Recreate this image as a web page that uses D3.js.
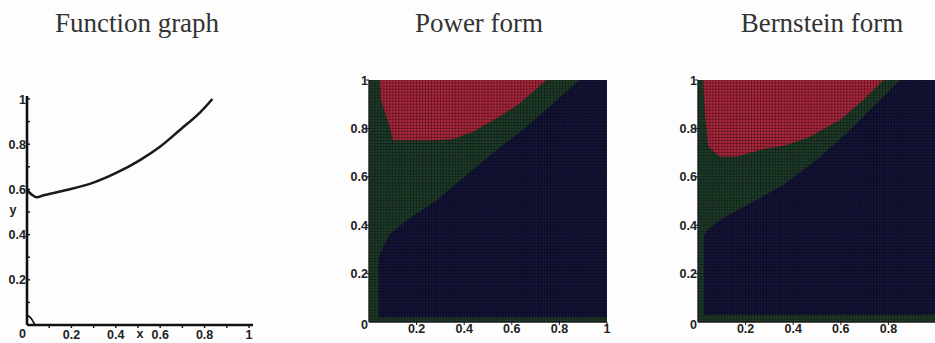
<!DOCTYPE html>
<html>
<head>
<meta charset="utf-8">
<script src="https://cdn.jsdelivr.net/npm/d3@7"></script>
<style>
  body { margin: 0; background: #fdfdfd; }
  svg { display: block; }
</style>
</head>
<body>
<div id="chart"></div>
<script>
// titles and tick labels
const titles = ["Function graph", "Power form", "Bernstein form"];
const tickValues = [0, 0.2, 0.4, 0.6, 0.8, 1];
const tickLabels = ["0", "0.2", "0.4", "0.6", "0.8", "1"];

// function graph
const curveX = [0, 0.02, 0.044, 0.074, 0.178, 0.299, 0.404, 0.509, 0.599, 0.689, 0.779, 0.835];
const curveY = [0.598, 0.578, 0.565, 0.574, 0.597, 0.63, 0.674, 0.73, 0.789, 0.863, 0.94, 1.0];
const blipX = [0.004, 0.018, 0.034];
const blipY = [0.042, 0.03, 0.004];

// power form regions: lower edge of red, green/navy edge, green strips
const powerRedX = [0.045, 0.05, 0.087, 0.101, 0.25, 0.35, 0.437, 0.535, 0.633, 0.745];
const powerRedY = [1, 0.917, 0.806, 0.751, 0.75, 0.755, 0.786, 0.841, 0.903, 1];
const powerNavyX = [0.885, 0.773, 0.661, 0.535, 0.409, 0.284, 0.157, 0.087, 0.045, 0.04];
const powerNavyY = [1, 0.903, 0.806, 0.71, 0.606, 0.502, 0.419, 0.364, 0.28, 0.25];
const powerStrip = [0.04, 0.02];

// bernstein form regions
const bernRedX = [0.022, 0.03, 0.043, 0.092, 0.162, 0.26, 0.373, 0.47, 0.597, 0.695, 0.779];
const bernRedY = [1, 0.85, 0.725, 0.683, 0.683, 0.711, 0.731, 0.766, 0.835, 0.917, 1];
const bernNavyX = [0.849, 0.737, 0.625, 0.499, 0.358, 0.218, 0.092, 0.04, 0.025];
const bernNavyY = [1, 0.89, 0.78, 0.67, 0.566, 0.49, 0.421, 0.38, 0.36];
const bernStrip = [0.025, 0.03];

const gridCells = 80;

const W = 935, H = 343;
const svg = d3.select('#chart').append('svg')
  .attr('width', W).attr('height', H);

const tickFont = 'Liberation Sans, Arial, sans-serif';

// titles
const titleX = [137, 479, 822];
titles.forEach((t, i) => {
  svg.append('text')
    .attr('x', titleX[i]).attr('y', 32)
    .attr('text-anchor', 'middle')
    .style('font-family', 'Liberation Serif, Times New Roman, serif')
    .style('font-size', '27px')
    .style('fill', '#333')
    .text(t);
});

// ---------- panel 1: function graph ----------
const x1 = d3.scaleLinear().domain([0, 1]).range([27, 249]);
const y1 = d3.scaleLinear().domain([0, 1]).range([325, 99]);
const g1 = svg.append('g');

const line1 = d3.line().x(d => x1(d[0])).y(d => y1(d[1])).curve(d3.curveCatmullRom);

g1.append('path')
  .datum(curveX.map((v, i) => [v, curveY[i]]))
  .attr('d', line1)
  .attr('fill', 'none').attr('stroke', '#1a1a1a').attr('stroke-width', 2.6);
g1.append('path')
  .datum(blipX.map((v, i) => [v, blipY[i]]))
  .attr('d', line1)
  .attr('fill', 'none').attr('stroke', '#1a1a1a').attr('stroke-width', 1.8);

// axes
g1.append('line').attr('x1', x1(0)).attr('x2', x1(0)).attr('y1', y1(1) - 3).attr('y2', y1(0))
  .attr('stroke', '#111').attr('stroke-width', 2.6);
g1.append('line').attr('x1', x1(0)).attr('x2', x1(1) + 4).attr('y1', y1(0)).attr('y2', y1(0))
  .attr('stroke', '#111').attr('stroke-width', 2.6);

const minor = d3.range(0.1, 1.01, 0.1);
g1.selectAll('.ty').data(minor).enter().append('line')
  .attr('x1', x1(0)).attr('x2', x1(0) + 3)
  .attr('y1', d => y1(d)).attr('y2', d => y1(d))
  .attr('stroke', '#111').attr('stroke-width', 1.4);
g1.selectAll('.tx').data(minor).enter().append('line')
  .attr('x1', d => x1(d)).attr('x2', d => x1(d))
  .attr('y1', y1(0)).attr('y2', y1(0) + 3)
  .attr('stroke', '#111').attr('stroke-width', 1.4);

function tickText(g, x, y, txt, anchor) {
  g.append('text')
    .attr('x', x).attr('y', y)
    .attr('text-anchor', anchor)
    .style('font-family', tickFont)
    .style('font-size', '12.5px')
    .style('font-weight', 'bold')
    .style('fill', '#222')
    .text(txt);
}

tickValues.forEach((v, i) => {
  if (v === 0) return;
  tickText(g1, x1(0) - 1, y1(v) + 4.5, tickLabels[i], 'end');
  tickText(g1, x1(v), y1(0) + 14, tickLabels[i], 'middle');
});
tickText(g1, x1(0) - 1, y1(0) + 13, '0', 'end');
tickText(g1, 13, 214, 'y', 'middle');
tickText(g1, 140, 338, 'x', 'middle');

// ---------- panels 2 and 3: density plots ----------
const colors = { red: '#ad283d', green: '#1f3d2a', navy: '#15153b', frame: '#1a1a1a' };

function densityPanel(id, x0, redX, redY, navyX, navyY, strip) {
  const x = d3.scaleLinear().domain([0, 1]).range([x0, x0 + 238]);
  const y = d3.scaleLinear().domain([0, 1]).range([322, 80]);
  const g = svg.append('g');

  g.append('clipPath').attr('id', id)
    .append('rect').attr('x', x(0)).attr('y', y(1))
    .attr('width', x(1) - x(0)).attr('height', y(0) - y(1));
  const body = g.append('g').attr('clip-path', `url(#${id})`);

  const poly = d3.line().x(d => x(d[0])).y(d => y(d[1]));

  // green background
  body.append('rect').attr('x', x(0)).attr('y', y(1))
    .attr('width', x(1) - x(0)).attr('height', y(0) - y(1))
    .attr('fill', colors.green);

  // navy region
  const navyPts = navyX.map((v, i) => [v, navyY[i]])
    .concat([[strip[0], strip[1]], [1, strip[1]], [1, 1]]);
  body.append('path').attr('d', poly(navyPts) + 'Z').attr('fill', colors.navy);

  // red region
  const redPts = redX.map((v, i) => [v, redY[i]]);
  body.append('path').attr('d', poly(redPts) + 'Z').attr('fill', colors.red);

  // cell mesh
  const cells = d3.range(0, gridCells + 1).map(i => i / gridCells);
  body.selectAll('.gv').data(cells).enter().append('line')
    .attr('x1', d => x(d)).attr('x2', d => x(d))
    .attr('y1', y(1)).attr('y2', y(0))
    .attr('stroke', '#000').attr('stroke-opacity', 0.35).attr('stroke-width', 0.9);
  body.selectAll('.gh').data(cells).enter().append('line')
    .attr('x1', x(0)).attr('x2', x(1))
    .attr('y1', d => y(d)).attr('y2', d => y(d))
    .attr('stroke', '#000').attr('stroke-opacity', 0.35).attr('stroke-width', 0.9);

  // axes
  g.append('line').attr('x1', x(0)).attr('x2', x(0)).attr('y1', y(1)).attr('y2', y(0))
    .attr('stroke', colors.frame).attr('stroke-width', 1.4);
  g.append('line').attr('x1', x(0)).attr('x2', x(1)).attr('y1', y(0)).attr('y2', y(0))
    .attr('stroke', colors.frame).attr('stroke-width', 1.4);

  tickValues.forEach((v, i) => {
    if (v === 0) return;
    g.append('line').attr('x1', x(0) - 3).attr('x2', x(0)).attr('y1', y(v)).attr('y2', y(v))
      .attr('stroke', colors.frame).attr('stroke-width', 1);
    tickText(g, x(0) - 1, y(v) + 4.5, tickLabels[i], 'end');
    if (x(v) < W - 4) {
      g.append('line').attr('x1', x(v)).attr('x2', x(v)).attr('y1', y(0)).attr('y2', y(0) + 3)
        .attr('stroke', colors.frame).attr('stroke-width', 1);
      tickText(g, x(v), y(0) + 10.5, tickLabels[i], 'middle');
    }
  });
  tickText(g, x(0) - 1, y(0) + 7, '0', 'end');
}

densityPanel('clipPower', 369, powerRedX, powerRedY, powerNavyX, powerNavyY, powerStrip);
densityPanel('clipBern', 698, bernRedX, bernRedY, bernNavyX, bernNavyY, bernStrip);
</script>
</body>
</html>
